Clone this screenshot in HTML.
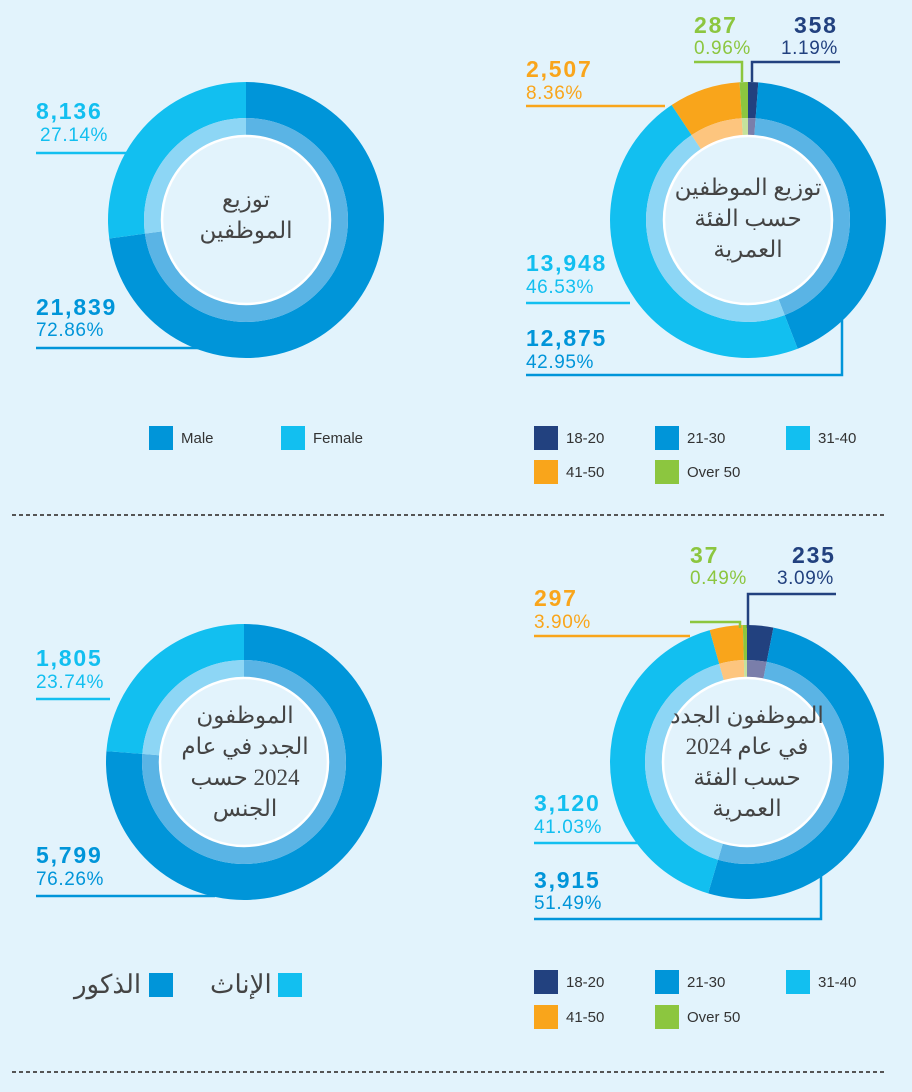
<!DOCTYPE html>
<html><head><meta charset="utf-8"><style>
body{margin:0;width:912px;height:1092px;background:#e2f3fc;position:relative;overflow:hidden;font-family:"Liberation Sans",sans-serif}
.t{position:absolute;white-space:nowrap;line-height:1}
.n{font-weight:bold;font-size:23px;letter-spacing:1.8px}
.p{font-size:19px;letter-spacing:0.6px}
.lg{position:absolute;font-size:15px;color:#333;display:flex;align-items:center}
.lg i{display:inline-block;width:24px;height:24px;margin-right:8px}
.ar{position:absolute;font-family:"Liberation Serif","Noto Sans CJK SC",serif;color:#444;font-size:23px;text-align:center;direction:rtl;line-height:1.35}
</style></head><body>
<svg id="s" width="912" height="1092" style="position:absolute;left:0;top:0"></svg>
<div class="t n" style="left:36px;top:100px;color:#12bff0">8,136</div>
<div class="t p" style="left:40px;top:126px;color:#12bff0">27.14%</div>
<div class="t n" style="left:36px;top:296px;color:#0095d9">21,839</div>
<div class="t p" style="left:36px;top:321px;color:#0095d9">72.86%</div>

<div class="t n" style="left:526px;top:58px;color:#f9a51b">2,507</div>
<div class="t p" style="left:526px;top:84px;color:#f9a51b">8.36%</div>
<div class="t n" style="left:694px;top:14px;color:#8cc63f">287</div>
<div class="t p" style="left:694px;top:39px;color:#8cc63f">0.96%</div>
<div class="t n" style="left:794px;top:14px;color:#22417f">358</div>
<div class="t p" style="left:781px;top:39px;color:#22417f">1.19%</div>
<div class="t n" style="left:526px;top:252px;color:#12bff0">13,948</div>
<div class="t p" style="left:526px;top:278px;color:#12bff0">46.53%</div>
<div class="t n" style="left:526px;top:327px;color:#0095d9">12,875</div>
<div class="t p" style="left:526px;top:353px;color:#0095d9">42.95%</div>

<div class="t n" style="left:36px;top:647px;color:#12bff0">1,805</div>
<div class="t p" style="left:36px;top:673px;color:#12bff0">23.74%</div>
<div class="t n" style="left:36px;top:844px;color:#0095d9">5,799</div>
<div class="t p" style="left:36px;top:870px;color:#0095d9">76.26%</div>

<div class="t n" style="left:534px;top:587px;color:#f9a51b">297</div>
<div class="t p" style="left:534px;top:613px;color:#f9a51b">3.90%</div>
<div class="t n" style="left:690px;top:544px;color:#8cc63f">37</div>
<div class="t p" style="left:690px;top:569px;color:#8cc63f">0.49%</div>
<div class="t n" style="left:792px;top:544px;color:#22417f">235</div>
<div class="t p" style="left:777px;top:569px;color:#22417f">3.09%</div>
<div class="t n" style="left:534px;top:792px;color:#12bff0">3,120</div>
<div class="t p" style="left:534px;top:818px;color:#12bff0">41.03%</div>
<div class="t n" style="left:534px;top:869px;color:#0095d9">3,915</div>
<div class="t p" style="left:534px;top:894px;color:#0095d9">51.49%</div>

<div class="ar" style="left:166px;top:184px;width:160px">توزيع<br>الموظفين</div>
<div class="ar" style="left:655px;top:172px;width:186px">توزيع الموظفين<br>حسب الفئة<br>العمرية</div>
<div class="ar" style="left:165px;top:700px;width:160px">الموظفون<br>الجدد في عام<br>2024 حسب<br>الجنس</div>
<div class="ar" style="left:652px;top:700px;width:190px">الموظفون الجدد<br>في عام 2024<br>حسب الفئة<br>العمرية</div>

<div class="lg" style="left:149px;top:426px"><i style="background:#0095d9"></i>Male</div>
<div class="lg" style="left:281px;top:426px"><i style="background:#12bff0"></i>Female</div>
<div class="lg" style="left:534px;top:426px"><i style="background:#22417f"></i>18-20</div>
<div class="lg" style="left:655px;top:426px"><i style="background:#0095d9"></i>21-30</div>
<div class="lg" style="left:786px;top:426px"><i style="background:#12bff0"></i>31-40</div>
<div class="lg" style="left:534px;top:460px"><i style="background:#f9a51b"></i>41-50</div>
<div class="lg" style="left:655px;top:460px"><i style="background:#8cc63f"></i>Over 50</div>

<div class="lg" style="left:74px;top:970px;font-size:26px;font-family:'Liberation Serif','Noto Sans CJK SC',serif;color:#444">الذكور<i style="background:#0095d9;margin:0 0 0 8px"></i></div>
<div class="lg" style="left:210px;top:970px;font-size:26px;font-family:'Liberation Serif','Noto Sans CJK SC',serif;color:#444">الإناث<i style="background:#12bff0;margin:0 0 0 6px"></i></div>
<div class="lg" style="left:534px;top:970px"><i style="background:#22417f"></i>18-20</div>
<div class="lg" style="left:655px;top:970px"><i style="background:#0095d9"></i>21-30</div>
<div class="lg" style="left:786px;top:970px"><i style="background:#12bff0"></i>31-40</div>
<div class="lg" style="left:534px;top:1005px"><i style="background:#f9a51b"></i>41-50</div>
<div class="lg" style="left:655px;top:1005px"><i style="background:#8cc63f"></i>Over 50</div>

<script>
var s=document.getElementById('s'),h='';
function arc(cx,cy,r1,r2,a0,a1,c){var f=function(a,r){var t=(a-90)*Math.PI/180;return (cx+r*Math.cos(t)).toFixed(2)+' '+(cy+r*Math.sin(t)).toFixed(2)};var L=(a1-a0)>180?1:0;
h+='<path d="M'+f(a0,r2)+' A'+r2+' '+r2+' 0 '+L+' 1 '+f(a1,r2)+' L'+f(a1,r1)+' A'+r1+' '+r1+' 0 '+L+' 0 '+f(a0,r1)+'Z" fill="'+c+'"/>';}
var C={a:['#22417f','#7a7eaa'],b:['#0095d9','#5ab4e5'],c:['#12bff0','#8dd6f5'],d:['#f9a51b','#fdc57e'],e:['#8cc63f','#c5e29c']};
function donut(cx,cy,R,segs){var a=0;segs.forEach(function(g){var b=a+g[0]*3.6;arc(cx,cy,102,R,a,b,C[g[1]][0]);arc(cx,cy,84,102,a,b,C[g[1]][1]);a=b;});
h+='<circle cx="'+cx+'" cy="'+cy+'" r="84" fill="#e2f3fc" stroke="#fff" stroke-width="2.5"/>';}
donut(246,220,138,[[72.86,'b'],[27.14,'c']]);
donut(748,220,138,[[1.19,'a'],[42.95,'b'],[46.53,'c'],[8.36,'d'],[0.97,'e']]);
donut(244,762,138,[[76.26,'b'],[23.74,'c']]);
donut(747,762,137,[[3.09,'a'],[51.49,'b'],[41.03,'c'],[3.90,'d'],[0.49,'e']]);
function pl(p,c){h+='<polyline points="'+p+'" fill="none" stroke="'+c+'" stroke-width="2.5"/>';}
pl('36,153 130,153','#12bff0');pl('36,348 200,348','#0095d9');
pl('526,106 665,106','#f9a51b');pl('694,62 742,62 742,82','#8cc63f');pl('840,62 752,62 752,82','#22417f');
pl('526,303 630,303','#12bff0');pl('526,375 842,375 842,320','#0095d9');
pl('36,699 110,699','#12bff0');pl('36,896 215,896','#0095d9');
pl('534,636 690,636','#f9a51b');pl('690,622 740,622 740,628','#8cc63f');pl('836,594 748,594 748,628','#22417f');
pl('534,843 640,843','#12bff0');pl('534,919 821,919 821,870','#0095d9');
h+='<line x1="12" y1="515" x2="886" y2="515" stroke="#555" stroke-width="2" stroke-dasharray="4,3"/>';
h+='<line x1="12" y1="1072" x2="886" y2="1072" stroke="#555" stroke-width="2" stroke-dasharray="4,3"/>';
s.innerHTML=h;
</script>
</body></html>
